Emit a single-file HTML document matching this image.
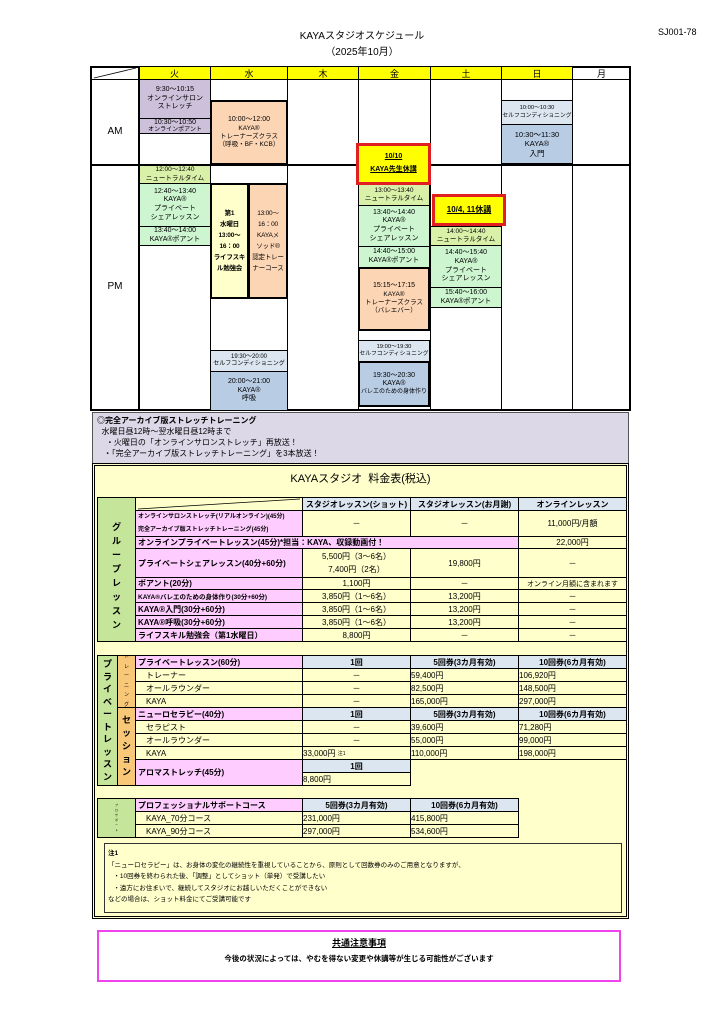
<!DOCTYPE html>
<html><head><meta charset="utf-8">
<style>
*{margin:0;padding:0;box-sizing:border-box}
body{width:724px;height:1024px;background:#fff;position:relative;overflow:hidden;font-family:"Liberation Sans","Noto Sans CJK JP",sans-serif;color:#000}
.a{position:absolute}
.b{position:absolute;border:1px solid #000;display:flex;flex-direction:column;justify-content:center;align-items:center;text-align:center;font-size:7px;line-height:1.25;overflow:hidden;white-space:nowrap}
.tk{border-width:2px}
.v{position:absolute;background:#000;width:1px}
.h{position:absolute;background:#000;height:1px}
.c{position:absolute;border:1px solid #000;font-size:8px;display:flex;align-items:center;overflow:hidden;white-space:nowrap}
.cc{justify-content:center}
.pk{background:#ffccff}
.bl{background:#dce6f1}
.bd{font-weight:bold}
</style></head><body>
<div class="a" style="left:0;width:724px;top:27px;text-align:center;font-size:10px">KAYAスタジオスケジュール</div>
<div class="a" style="left:0;width:724px;top:43px;text-align:center;font-size:10px">（2025年10月）</div>
<div class="a" style="left:658px;top:27px;font-size:9px">SJ001-78</div>

<div class="a" style="left:90px;top:66px;width:541px;height:345px;border:2px solid #000"></div>
<div class="a" style="left:139px;top:67px;width:434px;height:12px;background:#ffff00"></div>
<div class="h" style="left:90px;top:79px;width:540px"></div>
<div class="h" style="left:90px;top:164px;width:540px;height:2px"></div>
<div class="v" style="left:138px;top:66px;height:345px;width:2px"></div>
<div class="v" style="left:210px;top:66px;height:345px"></div>
<div class="v" style="left:287px;top:66px;height:345px"></div>
<div class="v" style="left:358px;top:66px;height:345px"></div>
<div class="v" style="left:430px;top:66px;height:345px"></div>
<div class="v" style="left:501px;top:66px;height:345px"></div>
<div class="v" style="left:572px;top:66px;height:345px"></div>
<svg class="a" style="left:92px;top:67px" width="46" height="12"><line x1="2" y1="11" x2="44" y2="1" stroke="#000" stroke-width="0.8"/></svg>
<div class="a" style="top:67px;left:139px;width:71px;text-align:center;font-size:9px">火</div>
<div class="a" style="top:67px;left:211px;width:76px;text-align:center;font-size:9px">水</div>
<div class="a" style="top:67px;left:288px;width:70px;text-align:center;font-size:9px">木</div>
<div class="a" style="top:67px;left:359px;width:71px;text-align:center;font-size:9px">金</div>
<div class="a" style="top:67px;left:431px;width:70px;text-align:center;font-size:9px">土</div>
<div class="a" style="top:67px;left:502px;width:70px;text-align:center;font-size:9px">日</div>
<div class="a" style="top:67px;left:573px;width:57px;text-align:center;font-size:9px">月</div>
<div class="a" style="top:126px;left:92px;width:46px;text-align:center;font-size:10px">AM</div>
<div class="a" style="top:281px;left:92px;width:46px;text-align:center;font-size:10px">PM</div>

<div class="b" style="left:139px;top:79px;width:72px;height:40px;background:#ccc0da">9:30～10:15<br>オンラインサロン<br>ストレッチ</div>
<div class="b" style="left:139px;top:118px;width:72px;height:16px;background:#ccc0da;line-height:1.05">10:30～10:50<br><span style="font-size:6px">オンラインポアント</span></div>
<div class="b" style="left:139px;top:165px;width:72px;height:19px;background:#d8f0a8;font-size:6.5px">12:00～12:40<br>ニュートラルタイム</div>
<div class="b" style="left:139px;top:183px;width:72px;height:44px;background:#ccf5d0">12:40～13:40<br>KAYA®<br>プライベート<br>シェアレッスン</div>
<div class="b" style="left:139px;top:226px;width:72px;height:20px;background:#ccf5d0">13:40～14:00<br>KAYA®ポアント</div>
<div class="b tk" style="left:210px;top:100px;width:78px;height:65px;background:#fcd5b4">10:00～12:00<br><span style="font-size:6.5px">KAYA®<br>トレーナーズクラス<br>（呼吸・BF・KCB）</span></div>
<div class="b tk bd" style="left:210px;top:183px;width:39px;height:116px;background:#ffffcc;font-size:6.5px;line-height:1.7;letter-spacing:-0.2px">第1<br>水曜日<br>13:00～<br>16：00<br>ライフスキ<br>ル勉強会</div>
<div class="b tk" style="left:248px;top:183px;width:40px;height:116px;background:#fcd5b4;font-size:6.5px;line-height:1.7;letter-spacing:-0.2px">13:00～<br>16：00<br>KAYAメ<br>ソッド®<br>認定トレー<br>ナーコース</div>
<div class="b" style="left:210px;top:350px;width:78px;height:22px;background:#dce6f1;font-size:6px">19:30～20:00<br>セルフコンディショニング</div>
<div class="b" style="left:210px;top:371px;width:78px;height:40px;background:#b8cce4">20:00～21:00<br>KAYA®<br>呼吸</div>
<div class="b" style="left:358px;top:184px;width:72px;height:22px;background:#d8f0a8;font-size:6.5px">13:00～13:40<br>ニュートラルタイム</div>
<div class="b" style="left:358px;top:205px;width:72px;height:42px;background:#ccf5d0">13:40～14:40<br>KAYA®<br>プライベート<br>シェアレッスン</div>
<div class="b" style="left:358px;top:246px;width:72px;height:22px;background:#ccf5d0">14:40～15:00<br>KAYA®ポアント</div>
<div class="b tk" style="left:358px;top:267px;width:72px;height:64px;background:#fcd5b4">15:15～17:15<br><span style="font-size:6.5px">KAYA®<br>トレーナーズクラス<br>（バレエバー）</span></div>
<div class="b" style="left:358px;top:340px;width:72px;height:22px;background:#dce6f1;font-size:5.8px">19:00～19:30<br>セルフコンディショニング</div>
<div class="b tk" style="left:358px;top:361px;width:72px;height:46px;background:#b8cce4">19:30～20:30<br>KAYA®<br><span style="font-size:6px">バレエのための身体作り</span></div>
<div class="b bd" style="left:356px;top:143px;width:75px;height:42px;background:#ffff00;border:3px solid #e02020;text-decoration:underline;line-height:1.8">10/10<br>KAYA先生休講</div>
<div class="b" style="left:430px;top:226px;width:72px;height:20px;background:#d8f0a8;font-size:6.5px">14:00～14:40<br>ニュートラルタイム</div>
<div class="b" style="left:430px;top:245px;width:72px;height:43px;background:#ccf5d0">14:40～15:40<br>KAYA®<br>プライベート<br>シェアレッスン</div>
<div class="b" style="left:430px;top:287px;width:72px;height:21px;background:#ccf5d0">15:40～16:00<br>KAYA®ポアント</div>
<div class="b bd" style="left:432px;top:194px;width:74px;height:32px;background:#ffff00;border:3px solid #e02020;text-decoration:underline;font-size:8px">10/4, 11休講</div>
<div class="b" style="left:501px;top:100px;width:72px;height:25px;background:#dce6f1;font-size:5.8px">10:00～10:30<br>セルフコンディショニング</div>
<div class="b" style="left:501px;top:124px;width:72px;height:40px;background:#b8cce4;font-size:7.5px">10:30～11:30<br>KAYA®<br>入門</div>

<div class="a" style="left:92px;top:412px;width:537px;height:52px;background:#ddd8e8;border:1px solid #555;font-size:8px;line-height:11px;padding:2px 4px">
<b>◎完全アーカイブ版ストレッチトレーニング</b><br>&nbsp;&nbsp;水曜日昼12時～翌水曜日昼12時まで<br>&nbsp;&nbsp;&nbsp;&nbsp;・火曜日の「オンラインサロンストレッチ」再放送！<br>&nbsp;&nbsp;&nbsp;・「完全アーカイブ版ストレッチトレーニング」を3本放送！</div>

<div class="a" style="left:92px;top:463px;width:537px;height:456px;background:#ffffcc;border:3px double #000"></div>
<div class="a" style="left:92px;top:470px;width:537px;text-align:center;font-size:11px">KAYAスタジオ&nbsp; 料金表(税込)</div>

<div class="b bd" style="left:97px;top:497px;width:39px;height:145px;background:#c4e59a;font-size:9px;line-height:14px;justify-content:flex-start;padding-top:22px">グ<br>ル<br>ー<br>プ<br>レ<br>ッ<br>ス<br>ン</div>
<div class="c" style="left:135px;top:497px;width:168px;height:14px"></div>
<svg class="a" style="left:136px;top:498px" width="166" height="12"><line x1="2" y1="11" x2="164" y2="1" stroke="#000" stroke-width="0.8"/></svg>
<div class="c cc bd bl" style="left:302px;top:497px;width:109px;height:14px">スタジオレッスン(ショット)</div>
<div class="c cc bd bl" style="left:410px;top:497px;width:109px;height:14px">スタジオレッスン(お月謝)</div>
<div class="c cc bd bl" style="left:518px;top:497px;width:109px;height:14px">オンラインレッスン</div>

<div class="c pk bd" style="left:135px;top:510px;width:168px;height:27px;font-size:6px;line-height:13px;white-space:normal;padding-left:2px">オンラインサロンストレッチ(リアルオンライン)(45分)<br>完全アーカイブ版ストレッチトレーニング(45分)</div>
<div class="c cc" style="left:302px;top:510px;width:109px;height:27px">－</div>
<div class="c cc" style="left:410px;top:510px;width:109px;height:27px">－</div>
<div class="c cc" style="left:518px;top:510px;width:109px;height:27px">11,000円/月額</div>

<div class="c pk bd" style="left:135px;top:536px;width:384px;height:13px;padding-left:2px">オンラインプライベートレッスン(45分)*担当：KAYA、収録動画付！</div>
<div class="c cc" style="left:518px;top:536px;width:109px;height:13px">22,000円</div>

<div class="c pk bd" style="left:135px;top:548px;width:168px;height:30px;padding-left:2px">プライベートシェアレッスン(40分+60分)</div>
<div class="c cc" style="left:302px;top:548px;width:109px;height:30px;white-space:normal;text-align:center;line-height:13px">5,500円（3～6名）<br>7,400円（2名）</div>
<div class="c cc" style="left:410px;top:548px;width:109px;height:30px">19,800円</div>
<div class="c cc" style="left:518px;top:548px;width:109px;height:30px">－</div>

<div class="c pk bd" style="left:135px;top:577px;width:168px;height:13px;padding-left:2px">ポアント(20分)</div>
<div class="c cc" style="left:302px;top:577px;width:109px;height:13px">1,100円</div>
<div class="c cc" style="left:410px;top:577px;width:109px;height:13px">－</div>
<div class="c cc" style="left:518px;top:577px;width:109px;height:13px;font-size:7px">オンライン月額に含まれます</div>

<div class="c pk bd" style="left:135px;top:589px;width:168px;height:14px;padding-left:2px;font-size:6.5px">KAYA®バレエのための身体作り(30分+60分)</div>
<div class="c cc" style="left:302px;top:589px;width:109px;height:14px">3,850円（1～6名）</div>
<div class="c cc" style="left:410px;top:589px;width:109px;height:14px">13,200円</div>
<div class="c cc" style="left:518px;top:589px;width:109px;height:14px">－</div>

<div class="c pk bd" style="left:135px;top:602px;width:168px;height:14px;padding-left:2px">KAYA®入門(30分+60分)</div>
<div class="c cc" style="left:302px;top:602px;width:109px;height:14px">3,850円（1～6名）</div>
<div class="c cc" style="left:410px;top:602px;width:109px;height:14px">13,200円</div>
<div class="c cc" style="left:518px;top:602px;width:109px;height:14px">－</div>

<div class="c pk bd" style="left:135px;top:615px;width:168px;height:14px;padding-left:2px">KAYA®呼吸(30分+60分)</div>
<div class="c cc" style="left:302px;top:615px;width:109px;height:14px">3,850円（1～6名）</div>
<div class="c cc" style="left:410px;top:615px;width:109px;height:14px">13,200円</div>
<div class="c cc" style="left:518px;top:615px;width:109px;height:14px">－</div>

<div class="c pk bd" style="left:135px;top:628px;width:168px;height:14px;padding-left:2px">ライフスキル勉強会（第1水曜日）</div>
<div class="c cc" style="left:302px;top:628px;width:109px;height:14px">8,800円</div>
<div class="c cc" style="left:410px;top:628px;width:109px;height:14px">－</div>
<div class="c cc" style="left:518px;top:628px;width:109px;height:14px">－</div>

<div class="b bd" style="left:97px;top:655px;width:21px;height:131px;background:#c4e59a;font-size:9px;line-height:12.5px">プ<br>ラ<br>イ<br>ベ<br>ー<br>ト<br>レ<br>ッ<br>ス<br>ン</div>
<div class="b" style="left:117px;top:655px;width:19px;height:53px;background:#f8c878;font-size:5px;line-height:9.5px">ト<br>レ<br>ー<br>ニ<br>ン<br>グ</div>
<div class="b bd" style="left:117px;top:707px;width:19px;height:79px;background:#f8c878;font-size:9px;line-height:13px">セ<br>ッ<br>シ<br>ョ<br>ン</div>

<div class="c pk bd" style="left:135px;top:655px;width:168px;height:14px;padding-left:2px">プライベートレッスン(60分)</div>
<div class="c cc bd bl" style="left:302px;top:655px;width:109px;height:14px">1回</div>
<div class="c cc bd bl" style="left:410px;top:655px;width:109px;height:14px">5回券(3カ月有効)</div>
<div class="c cc bd bl" style="left:518px;top:655px;width:109px;height:14px">10回券(6カ月有効)</div>
<div class="c" style="left:135px;top:668px;width:168px;height:14px;padding-left:10px">トレーナー</div>
<div class="c cc" style="left:302px;top:668px;width:109px;height:14px">－</div>
<div class="c" style="left:410px;top:668px;width:109px;height:14px">59,400円</div>
<div class="c" style="left:518px;top:668px;width:109px;height:14px">106,920円</div>
<div class="c" style="left:135px;top:681px;width:168px;height:14px;padding-left:10px">オールラウンダー</div>
<div class="c cc" style="left:302px;top:681px;width:109px;height:14px">－</div>
<div class="c" style="left:410px;top:681px;width:109px;height:14px">82,500円</div>
<div class="c" style="left:518px;top:681px;width:109px;height:14px">148,500円</div>
<div class="c" style="left:135px;top:694px;width:168px;height:14px;padding-left:10px">KAYA</div>
<div class="c cc" style="left:302px;top:694px;width:109px;height:14px">－</div>
<div class="c" style="left:410px;top:694px;width:109px;height:14px">165,000円</div>
<div class="c" style="left:518px;top:694px;width:109px;height:14px">297,000円</div>

<div class="c pk bd" style="left:135px;top:707px;width:168px;height:14px;padding-left:2px">ニューロセラピー(40分)</div>
<div class="c cc bd bl" style="left:302px;top:707px;width:109px;height:14px">1回</div>
<div class="c cc bd bl" style="left:410px;top:707px;width:109px;height:14px">5回券(3カ月有効)</div>
<div class="c cc bd bl" style="left:518px;top:707px;width:109px;height:14px">10回券(6カ月有効)</div>
<div class="c" style="left:135px;top:720px;width:168px;height:14px;padding-left:10px">セラピスト</div>
<div class="c cc" style="left:302px;top:720px;width:109px;height:14px">－</div>
<div class="c" style="left:410px;top:720px;width:109px;height:14px">39,600円</div>
<div class="c" style="left:518px;top:720px;width:109px;height:14px">71,280円</div>
<div class="c" style="left:135px;top:733px;width:168px;height:14px;padding-left:10px">オールラウンダー</div>
<div class="c cc" style="left:302px;top:733px;width:109px;height:14px">－</div>
<div class="c" style="left:410px;top:733px;width:109px;height:14px">55,000円</div>
<div class="c" style="left:518px;top:733px;width:109px;height:14px">99,000円</div>
<div class="c" style="left:135px;top:746px;width:168px;height:14px;padding-left:10px">KAYA</div>
<div class="c" style="left:302px;top:746px;width:109px;height:14px">33,000円&nbsp;<sup style="font-size:5px">注1</sup></div>
<div class="c" style="left:410px;top:746px;width:109px;height:14px">110,000円</div>
<div class="c" style="left:518px;top:746px;width:109px;height:14px">198,000円</div>

<div class="c pk bd" style="left:135px;top:759px;width:168px;height:27px;padding-left:2px">アロマストレッチ(45分)</div>
<div class="c cc bd bl" style="left:302px;top:759px;width:109px;height:14px">1回</div>
<div class="c" style="left:302px;top:772px;width:109px;height:14px">8,800円</div>

<div class="b" style="left:97px;top:798px;width:39px;height:40px;background:#c4e59a;font-size:3px;line-height:5px">プ<br>ロ<br>サ<br>ポ<br>ー<br>ト</div>
<div class="c pk bd" style="left:135px;top:798px;width:168px;height:14px;padding-left:2px">プロフェッショナルサポートコース</div>
<div class="c cc bd bl" style="left:302px;top:798px;width:109px;height:14px">5回券(3カ月有効)</div>
<div class="c cc bd bl" style="left:410px;top:798px;width:109px;height:14px">10回券(6カ月有効)</div>
<div class="c" style="left:135px;top:811px;width:168px;height:14px;padding-left:10px">KAYA_70分コース</div>
<div class="c" style="left:302px;top:811px;width:109px;height:14px">231,000円</div>
<div class="c" style="left:410px;top:811px;width:109px;height:14px">415,800円</div>
<div class="c" style="left:135px;top:824px;width:168px;height:14px;padding-left:10px">KAYA_90分コース</div>
<div class="c" style="left:302px;top:824px;width:109px;height:14px">297,000円</div>
<div class="c" style="left:410px;top:824px;width:109px;height:14px">534,600円</div>

<div class="a" style="left:104px;top:843px;width:518px;height:70px;border:1px solid #333;font-size:6.5px;line-height:11.5px;padding:4px 3px">
<b>注1</b><br>「ニューロセラピー」は、お身体の変化の継続性を重視していることから、原則として回数券のみのご用意となりますが、<br>&nbsp;&nbsp;&nbsp;・10回券を終わられた後、「調整」としてショット（単発）で受講したい<br>&nbsp;&nbsp;&nbsp;・遠方にお住まいで、継続してスタジオにお越しいただくことができない<br>などの場合は、ショット料金にてご受講可能です</div>

<div class="a" style="left:97px;top:930px;width:524px;height:52px;border:2px solid #ee44ee;background:#fff"></div>
<div class="a bd" style="left:97px;top:936px;width:524px;text-align:center;font-size:9px;text-decoration:underline">共通注意事項</div>
<div class="a bd" style="left:97px;top:953px;width:524px;text-align:center;font-size:7.5px">今後の状況によっては、やむを得ない変更や休講等が生じる可能性がございます</div>
</body></html>
